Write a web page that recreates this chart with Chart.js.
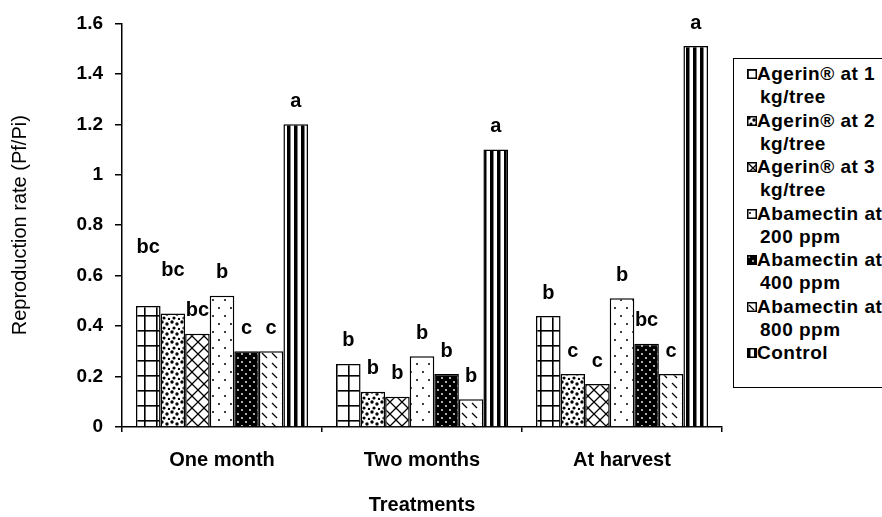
<!DOCTYPE html>
<html><head><meta charset="utf-8">
<script src="https://cdn.jsdelivr.net/npm/chart.js@4.4.1/dist/chart.umd.min.js"></script>
<style>
html,body{margin:0;padding:0;background:#fff;overflow:hidden;}
#wrap{position:relative;width:882px;height:517px;overflow:hidden;}
#c{position:absolute;left:0;top:0;}
#legend{position:absolute;left:733px;top:58px;width:220px;height:330px;border:1.5px solid #000;box-sizing:border-box;font:bold 19px "Liberation Sans",Arial,sans-serif;letter-spacing:0.5px;color:#000;padding-top:3px;background:#fff;}
.item{position:relative;padding-left:23px;line-height:23px;height:46.5px;white-space:nowrap;}
.item .l2{padding-left:3px;}
.item canvas{position:absolute;left:13px;top:7px;}
</style></head><body>
<div id="wrap"><canvas id="c" width="882" height="517"></canvas><div id="legend"></div></div>
<script>
// ---- data ----
const categories = ['One month', 'Two months', 'At harvest'];
const seriesNames = ['Agerin® at 1 kg/tree', 'Agerin® at 2 kg/tree', 'Agerin® at 3 kg/tree',
  'Abamectin at 200 ppm', 'Abamectin at 400 ppm', 'Abamectin at 800 ppm', 'Control'];
const legendLines = [['Agerin® at 1', 'kg/tree'], ['Agerin® at 2', 'kg/tree'], ['Agerin® at 3', 'kg/tree'],
  ['Abamectin at', '200 ppm'], ['Abamectin at', '400 ppm'], ['Abamectin at', '800 ppm'], ['Control']];
const agerin1 = [0.48, 0.25, 0.44];
const agerin2 = [0.45, 0.14, 0.21];
const agerin3 = [0.37, 0.12, 0.17];
const abam200 = [0.52, 0.28, 0.51];
const abam400 = [0.30, 0.21, 0.33];
const abam800 = [0.30, 0.11, 0.21];
const control = [1.20, 1.10, 1.51];
const letters1 = ['bc', 'b', 'b'];
const letters2 = ['bc', 'b', 'c'];
const letters3 = ['bc', 'b', 'c'];
const letters4 = ['b', 'b', 'b'];
const letters5 = ['c', 'b', 'bc'];
const letters6 = ['c', 'b', 'c'];
const letters7 = ['a', 'a', 'a'];
const yTickValues = [0, 0.2, 0.4, 0.6, 0.8, 1, 1.2, 1.4, 1.6];

const seriesValues = [agerin1, agerin2, agerin3, abam200, abam400, abam800, control];
const seriesLetters = [letters1, letters2, letters3, letters4, letters5, letters6, letters7];

// ---- styles (patterns) ----
function tile(w, h, draw) {
  const cv = document.createElement('canvas');
  cv.width = w; cv.height = h;
  const g = cv.getContext('2d');
  g.fillStyle = '#fff'; g.fillRect(0, 0, w, h);
  g.fillStyle = '#000'; g.strokeStyle = '#000';
  draw(g);
  return g.createPattern(cv, 'repeat');
}
function dot(g, x, y, r) { g.beginPath(); g.arc(x, y, r, 0, Math.PI * 2); g.fill(); }
const patterns = [
  tile(12, 15, g => { g.fillRect(0, 0, 12, 1.6); g.fillRect(0, 0, 1.6, 15); }),
  tile(10, 10, g => { dot(g, 2, 2, 1.7); dot(g, 7, 4, 1.7); dot(g, 4, 8, 1.6); dot(g, 9, 9, 1.2); }),
  tile(12, 12, g => { g.lineWidth = 1.3; g.beginPath(); g.moveTo(0, 0); g.lineTo(6, 6); g.lineTo(0, 12);
    g.moveTo(12, 0); g.lineTo(6, 6); g.moveTo(6, 6); g.lineTo(12, 12); g.stroke(); }),
  tile(12, 16, g => { dot(g, 3, 4, 1); dot(g, 9, 12, 1); }),
  tile(8, 8, g => { g.fillRect(0, 0, 8, 8); g.fillStyle = '#fff'; dot(g, 2, 2, 0.9); dot(g, 6, 6, 0.9); }),
  tile(10, 10, g => { g.lineWidth = 1.3; g.beginPath(); g.moveTo(2, 3); g.lineTo(7, 8); g.stroke(); }),
  tile(7, 4, g => { g.fillRect(0, 0, 3.5, 4); })
];

const datasets = seriesValues.map((vals, i) => ({
  label: seriesNames[i],
  data: vals,
  backgroundColor: patterns[i],
  borderColor: '#000',
  borderWidth: 1.5,
  borderSkipped: 'bottom',
  letters: seriesLetters[i]
}));

const letterLift = [[35, 0, 0], [20, 0, 0], [0, 0, 0], [0, 0, 0], [0, 0, 0], [0, 0, 0], [0, 0, 0]];

const letterPlugin = {
  id: 'letters',
  afterDatasetsDraw(chart) {
    const ctx = chart.ctx;
    ctx.save();
    ctx.font = 'bold 20px "Liberation Sans", Arial, sans-serif';
    ctx.fillStyle = '#000';
    ctx.textAlign = 'center';
    ctx.textBaseline = 'middle';
    chart.data.datasets.forEach((ds, i) => {
      chart.getDatasetMeta(i).data.forEach((bar, j) => {
        ctx.fillText(ds.letters[j], bar.x, bar.y - 23 - letterLift[i][j]);
      });
    });
    ctx.restore();
  }
};

const FONT = '"Liberation Sans", Arial, sans-serif';
new Chart(document.getElementById('c'), {
  type: 'bar',
  data: { labels: categories, datasets },
  options: {
    responsive: false,
    animation: false,
    layout: { padding: { left: 0, right: 160, top: 17, bottom: 0 } },
    plugins: { legend: { display: false }, tooltip: { enabled: false } },
    datasets: { bar: { categoryPercentage: 0.86, barPercentage: 1.0 } },
    scales: {
      x: {
        grid: { offset: true, drawOnChartArea: false, drawTicks: true, tickLength: 5, color: '#000', lineWidth: 1.5 },
        border: { display: true, color: '#000', width: 1.5 },
        ticks: { color: '#000', font: { family: FONT, size: 20, weight: 'bold' }, padding: 16, maxRotation: 0 },
        title: { display: true, text: 'Treatments', color: '#000', font: { family: FONT, size: 20, weight: 'bold' }, padding: { top: 4, bottom: 0 } },
        afterFit(s) { s.height = 90; }
      },
      y: {
        min: 0, max: 1.6,
        afterBuildTicks(s) { s.ticks = yTickValues.map(v => ({ value: v })); },
        grid: { drawOnChartArea: false, drawTicks: true, tickLength: 7, color: '#000', lineWidth: 1.5 },
        border: { display: true, color: '#000', width: 1.5 },
        ticks: { color: '#000', font: { family: FONT, size: 19, weight: 'bold' }, padding: 12,
          callback: v => String(+v.toFixed(1)) },
        title: { display: true, text: 'Reproduction rate (Pf/Pi)', color: '#000', font: { family: FONT, size: 20 }, padding: { top: 8, bottom: 0 } },
        afterFit(s) { s.width = 122; }
      }
    }
  },
  plugins: [letterPlugin]
});

// ---- HTML legend ----
const leg = document.getElementById('legend');
legendLines.forEach((lines, i) => {
  const it = document.createElement('div');
  it.className = 'item';
  const m = document.createElement('canvas');
  m.width = 10; m.height = 10;
  const g = m.getContext('2d');
  g.fillStyle = patterns[i]; g.fillRect(0, 0, 10, 10);
  g.strokeStyle = '#000'; g.lineWidth = 1.5; g.strokeRect(0.75, 0.75, 8.5, 8.5);
  it.appendChild(m);
  const t1 = document.createElement('div'); t1.textContent = lines[0]; it.appendChild(t1);
  if (lines[1]) { const t2 = document.createElement('div'); t2.className = 'l2'; t2.textContent = lines[1]; it.appendChild(t2); }
  leg.appendChild(it);
});
</script>
</body></html>
